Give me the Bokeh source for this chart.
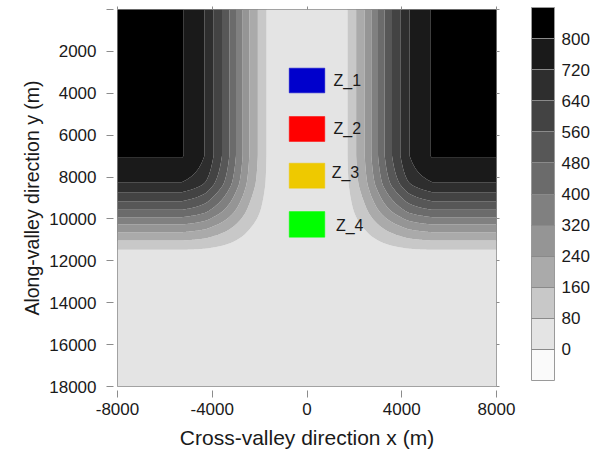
import numpy as np
from bokeh.plotting import figure
from bokeh.models import (ColorBar, LinearColorMapper, FixedTicker, LinearAxis,
                          Range1d, ColumnDataSource)
from bokeh.embed import file_html
from bokeh.resources import INLINE
from bokeh.core.properties import value

# ---------------- data ----------------
levels = [0, 80, 160, 240, 320, 400, 480, 560, 640, 720, 800]          # colour-bar boundaries (m)
gray_palette = ["#fafafa", "#e4e4e4", "#c8c8c8", "#aaaaaa", "#959595", "#808080",
                "#6b6b6b", "#575757", "#434343", "#2e2e2e", "#1a1a1a", "#000000"]
# |x| (m) where the side walls cross the levels 80..800 in the upper valley
cross_valley_dist = [1710, 2075, 2434, 2717, 2998, 3278, 3588, 3941, 4328, 5208]
# y (m) where the ridges cross the levels 80..800 at the domain side edges
along_valley_pos = [11474, 11030, 10634, 10266, 9917, 9564, 9153, 8724, 8246, 7081]
ridge_height = 805          # m
valley_floor_edge = 1350    # |x| where the side wall starts
ridge_edge_x = 5300         # |x| where the ridge top starts
ridge_edge_y = 6950         # y where the ridge top ends
plain_edge = 11900          # y where the plain starts

x_ticks = [-8000, -4000, 0, 4000, 8000]
y_ticks = [0, 2000, 4000, 6000, 8000, 10000, 12000, 14000, 16000, 18000]

zone_names = ["Z_1", "Z_2", "Z_3", "Z_4"]
zone_colors = ["#0000cc", "#ff0000", "#eec900", "#00ff00"]
zone_left = [-750, -750, -750, -750]
zone_right = [750, 750, 750, 750]
zone_top = [2800, 5110, 7340, 9650]
zone_bottom = [3980, 6300, 8530, 10870]
zone_label_x = [1120, 1120, 1040, 1220]
zone_label_y = [3390, 5700, 7770, 10310]


# ---------------- terrain field (smooth monotone profile through the read crossings) ----------------
def pchip(xk, yk, x):
    xk = np.asarray(xk, float)
    yk = np.asarray(yk, float)
    h = np.diff(xk)
    delta = np.diff(yk) / h
    d = np.zeros_like(yk)
    for k in range(1, len(xk) - 1):
        if delta[k - 1] * delta[k] > 0:
            w1 = 2 * h[k] + h[k - 1]
            w2 = h[k] + 2 * h[k - 1]
            d[k] = (w1 + w2) / (w1 / delta[k - 1] + w2 / delta[k])
    x = np.clip(x, xk[0], xk[-1])
    i = np.clip(np.searchsorted(xk, x) - 1, 0, len(xk) - 2)
    t = (x - xk[i]) / h[i]
    h00 = 2 * t ** 3 - 3 * t ** 2 + 1
    h10 = t ** 3 - 2 * t ** 2 + t
    h01 = -2 * t ** 3 + 3 * t ** 2
    h11 = t ** 3 - t ** 2
    return h00 * yk[i] + h10 * h[i] * d[i] + h01 * yk[i + 1] + h11 * h[i] * d[i + 1]


xs = np.linspace(-8000, 8000, 641)
ys = np.linspace(0, 18000, 721)
lev_frac = [lv / ridge_height for lv in levels[1:]]
fx = pchip([valley_floor_edge] + cross_valley_dist + [ridge_edge_x],
           [0.0] + lev_frac + [1.0], np.abs(xs))
fy = pchip([ridge_edge_y] + along_valley_pos[::-1] + [plain_edge],
           [1.0] + lev_frac[::-1] + [0.0], ys)
Z = ridge_height * np.outer(fy, fx)
contour_levels = [levels[0] - 40] + levels[1:] + [levels[-1] + 200]

# ---------------- figure ----------------
FONT = "Liberation Sans"
p = figure(frame_width=379, frame_height=377,
           x_range=Range1d(-8000, 8000), y_range=Range1d(18000, 0),
           output_backend="svg", toolbar_location=None,
           min_border_left=117, min_border_right=95, min_border_top=9, min_border_bottom=71,
           background_fill_color="white", border_fill_color="white")
p.grid.visible = False
p.outline_line_color = "#8c8c8c"
p.outline_line_width = 1

p.contour(xs, ys, Z, levels=contour_levels, fill_color=gray_palette[1:], line_color=None)

zsrc = ColumnDataSource(dict(left=zone_left, right=zone_right, top=zone_top,
                             bottom=zone_bottom, color=zone_colors))
p.quad(left="left", right="right", top="top", bottom="bottom", fill_color="color",
       line_color="color", line_alpha=0.5, line_width=1, source=zsrc)
tsrc = ColumnDataSource(dict(x=zone_label_x, y=zone_label_y, t=zone_names))
p.text(x="x", y="y", text="t", source=tsrc, text_font=value(FONT), text_font_size="16px",
       text_color="#1a1a1a", text_align="left", text_baseline="middle")


def style_axis(ax, ticks, overrides, standoff, title, title_size, title_standoff):
    ax.ticker = FixedTicker(ticks=ticks)
    ax.major_label_overrides = overrides
    ax.axis_line_color = None
    ax.major_tick_line_color = "#8c8c8c"
    ax.major_tick_in = -4
    ax.major_tick_out = 11
    ax.minor_tick_line_color = None
    ax.major_label_text_font = FONT
    ax.major_label_text_font_size = "17px"
    ax.major_label_text_color = "#1a1a1a"
    ax.major_label_standoff = standoff
    ax.axis_label = title
    ax.axis_label_text_font = FONT
    ax.axis_label_text_font_style = "normal"
    ax.axis_label_text_font_size = title_size
    ax.axis_label_text_color = "#1a1a1a"
    ax.axis_label_standoff = title_standoff


style_axis(p.xaxis[0], x_ticks, {t: str(t) for t in x_ticks}, 5,
           "Cross-valley direction x (m)", "21px", 8)
style_axis(p.yaxis[0], y_ticks, {t: ("" if t == 0 else str(t)) for t in y_ticks}, 10,
           "Along-valley direction y (m)", "19.5px", 3)

for loc, ticks in (("above", x_ticks), ("right", y_ticks)):
    ax = LinearAxis(ticker=FixedTicker(ticks=ticks), axis_line_color=None,
                    major_tick_line_color="#8c8c8c", major_tick_in=0, major_tick_out=3,
                    minor_tick_line_color=None, major_label_text_font_size="1px",
                    major_label_text_color=None, major_label_standoff=0)
    p.add_layout(ax, loc)

mapper = LinearColorMapper(palette=gray_palette, low=levels[0] - 80, high=levels[-1] + 80)
cb = ColorBar(color_mapper=mapper, ticker=FixedTicker(ticks=levels), width=23, height=373,
              padding=0, margin=0, location=(32, 6), label_standoff=7,
              major_label_text_font=FONT, major_label_text_font_size="17px",
              major_label_text_color="#1a1a1a",
              major_tick_line_color="#8a8a8a", major_tick_in=23, major_tick_out=0,
              minor_tick_line_color=None, bar_line_color="#9a9a9a",
              border_line_color=None, background_fill_color=None)
p.add_layout(cb, "right")

open("out.html", "w").write(file_html(p, INLINE))
